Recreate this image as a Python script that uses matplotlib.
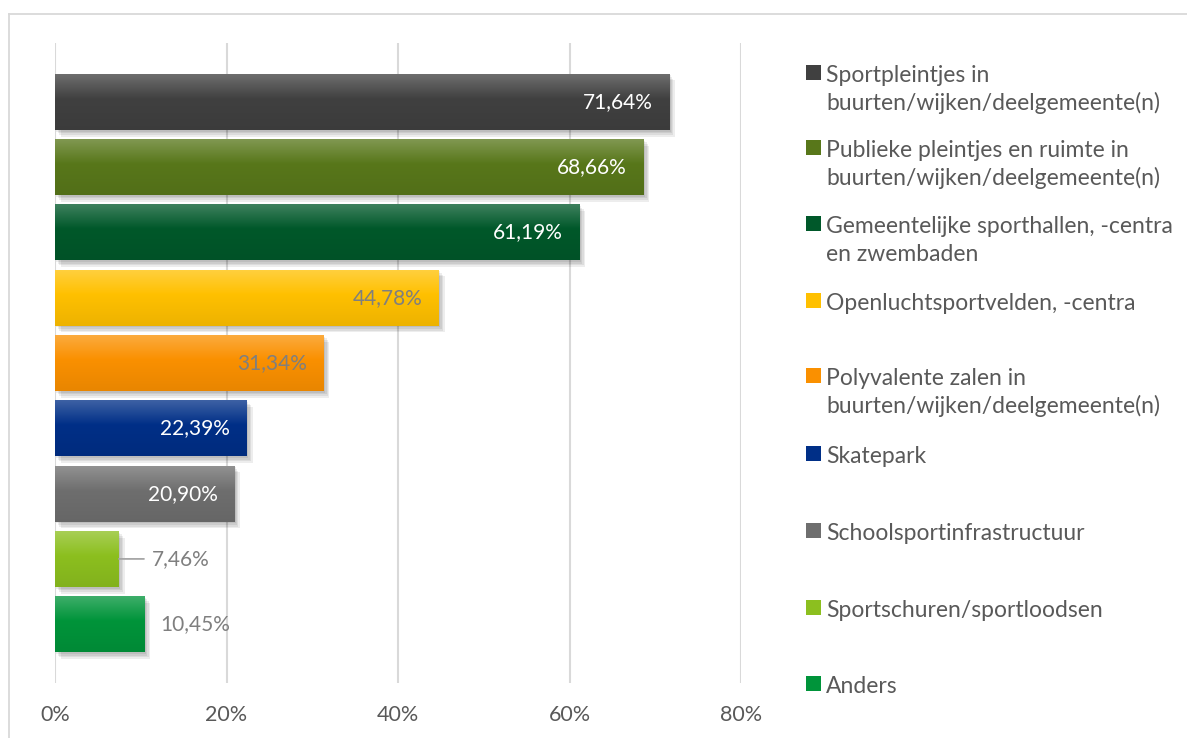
import numpy as np
import matplotlib
matplotlib.use("Agg")
import matplotlib.pyplot as plt
from matplotlib import patheffects as pe
from matplotlib.patches import Rectangle
from matplotlib.lines import Line2D
from matplotlib.ticker import FuncFormatter
from matplotlib.colors import to_rgb

categories = [
    "Sportpleintjes in\nbuurten/wijken/deelgemeente(n)",
    "Publieke pleintjes en ruimte in\nbuurten/wijken/deelgemeente(n)",
    "Gemeentelijke sporthallen, -centra\nen zwembaden",
    "Openluchtsportvelden, -centra",
    "Polyvalente zalen in\nbuurten/wijken/deelgemeente(n)",
    "Skatepark",
    "Schoolsportinfrastructuur",
    "Sportschuren/sportloodsen",
    "Anders",
]
values = [71.64, 68.66, 61.19, 44.78, 31.34, 22.39, 20.90, 7.46, 10.45]
colors = ["#404040", "#58771A", "#00582A", "#FFC000", "#FA9000",
          "#002F87", "#6E6E6E", "#8CBF1F", "#00943A"]
label_colors = ["white", "white", "white", "#7F7F7F", "#7F7F7F",
                "white", "white", "#7F7F7F", "#7F7F7F"]
inside = [True, True, True, True, True, True, True, False, False]
xticks = [0, 20, 40, 60, 80]

FONT = "Lato"
TXT = "#595959"
W, H = 1187, 738
fig = plt.figure(figsize=(W / 100, H / 100), dpi=100)
fig.patch.set_facecolor("white")

def fx(px):
    return px / W

def fy(py):
    return 1 - py / H

ax = fig.add_axes([fx(55), fy(683), fx(741) - fx(55), fy(43) - fy(683)])
n = len(values)
ypos = np.arange(n)
bars = ax.barh(ypos, values, height=0.86, color=colors, zorder=3)

def mix(c, t, a):
    c = np.array(to_rgb(c)); t = np.array(to_rgb(t))
    return c * (1 - a) + t * a

shadow = [pe.SimplePatchShadow(offset=(o, -o * 1.2), shadow_rgbFace="black", alpha=0.07)
          for o in (1.0, 2.0, 3.0, 4.0)]
for b, c in zip(bars, colors):
    b.set_path_effects(shadow + [pe.Normal()])
    steps = 64
    t = np.linspace(0, 1, steps)
    top = mix(c, "white", 0.25)
    mid = np.array(to_rgb(c))
    bot = mix(c, "black", 0.07)
    grad = np.zeros((steps, 1, 3))
    for i, tt in enumerate(t):
        if tt < 0.45:
            a = tt / 0.45
            grad[i, 0] = top * (1 - a) + mid * a
        else:
            a = (tt - 0.45) / 0.55
            grad[i, 0] = mid * (1 - a) + bot * a
    x0, y0 = b.get_x(), b.get_y()
    w, h = b.get_width(), b.get_height()
    im = ax.imshow(grad, extent=(x0, x0 + w, y0 + h, y0), aspect="auto",
                   origin="upper", zorder=4, interpolation="bilinear")
    im.set_clip_path(b)

ax.set_xlim(0, 80)
ax.set_ylim(n - 1 + 0.9, -0.9)
ax.set_xticks(xticks)
ax.xaxis.set_major_formatter(FuncFormatter(lambda v, p: f"{v:.0f}%"))
ax.set_yticks([])
ax.grid(axis="x", color="#D9D9D9", linewidth=1.5, zorder=0)
ax.set_axisbelow(True)
for s in ax.spines.values():
    s.set_visible(False)
ax.tick_params(axis="x", length=0, pad=16, labelsize=15.5, labelcolor=TXT)
for lbl in ax.get_xticklabels():
    lbl.set_fontfamily(FONT)

for i, (v, lc, ins) in enumerate(zip(values, label_colors, inside)):
    txt = f"{v:.2f}".replace(".", ",") + "%"
    kw = dict(textcoords="offset points", va="center", color=lc, fontsize=15,
              fontfamily=FONT, zorder=6)
    if ins:
        ax.annotate(txt, (v, i), xytext=(-12, 0), ha="right", **kw)
    elif v < 9:
        ax.annotate(txt, (v, i), xytext=(24, 0), ha="left",
                    arrowprops=dict(arrowstyle="-", color="#A6A6A6", lw=1.3,
                                    shrinkA=4, shrinkB=0), **kw)
    else:
        ax.annotate(txt, (v, i), xytext=(11, 0), ha="left", **kw)

# legend (manual)
baselines = [82, 157, 233, 310, 385, 463, 540, 617, 693]
for cat, c, bl in zip(categories, colors, baselines):
    fig.patches.append(Rectangle((fx(806), fy(bl - 2)), fx(15), fy(bl - 17) - fy(bl - 2),
                                 transform=fig.transFigure, facecolor=c, edgecolor="none"))
    for k, line in enumerate(cat.split("\n")):
        fig.text(fx(826), fy(bl + 28 * k), line, ha="left", va="baseline", fontsize=16.5,
                 fontfamily=FONT, color=TXT)

# chart border (partial)
fig.add_artist(Line2D([fx(9), 1], [fy(14), fy(14)], transform=fig.transFigure, color="#D9D9D9", lw=1.3))
fig.add_artist(Line2D([fx(9), fx(9)], [fy(14), 0], transform=fig.transFigure, color="#D9D9D9", lw=1.3))

fig.savefig("out.png", dpi=100, facecolor="white")
